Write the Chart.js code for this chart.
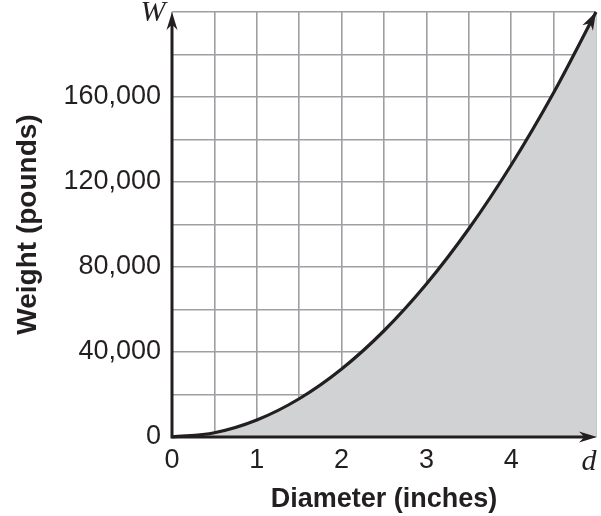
<!DOCTYPE html>
<html>
<head>
<meta charset="utf-8">
<script src="https://cdn.jsdelivr.net/npm/chart.js@4.4.1/dist/chart.umd.min.js"></script>
<style>
  html, body { margin: 0; padding: 0; background: #fff; }
  #wrap { width: 601px; height: 516px; }
</style>
</head>
<body>
<div id="wrap"><canvas id="c"></canvas></div>
<script>
// 直径 (inches) 与重量 (pounds)
const diameters = [0, 0.5, 1, 1.5, 2, 2.5, 3, 3.5, 4, 4.5, 5];
const weights = [0, 2000, 8000, 18000, 32000, 50000, 72000, 98000, 128000, 162000, 200000];

// 刻度标签
const xTickValues = [0, 1, 2, 3, 4];
const yTickValues = [0, 40000, 80000, 120000, 160000];

const INK = '#231f20';
const SANS = '"Liberation Sans", Arial, Helvetica, sans-serif';
const SERIF = '"Liberation Serif", "Times New Roman", serif';

function arrowHead(ctx, x, y, dx, dy, len, half) {
  const l = Math.hypot(dx, dy);
  const ux = dx / l, uy = dy / l;
  const px = -uy, py = ux;
  const bx = x - ux * len, by = y - uy * len;
  const nx = x - ux * len * 0.7, ny = y - uy * len * 0.7;
  ctx.beginPath();
  ctx.moveTo(x, y);
  ctx.lineTo(bx + px * half, by + py * half);
  ctx.lineTo(nx, ny);
  ctx.lineTo(bx - px * half, by - py * half);
  ctx.closePath();
  ctx.fill();
}

// 坐标轴箭头、曲线箭头和 d / W 字母
const arrowsPlugin = {
  id: 'arrows',
  afterDatasetsDraw(chart) {
    const ctx = chart.ctx;
    const a = chart.chartArea;
    const xs = chart.scales.x, ys = chart.scales.y;
    ctx.save();
    ctx.fillStyle = INK;
    ctx.strokeStyle = INK;
    ctx.lineWidth = 3;
    ctx.lineCap = 'butt';
    ctx.beginPath();
    ctx.moveTo(a.left, a.top + 8);
    ctx.lineTo(a.left, a.bottom);
    ctx.lineTo(a.right - 8, a.bottom);
    ctx.stroke();
    arrowHead(ctx, a.left, a.top, 0, -1, 18, 5.5);
    arrowHead(ctx, a.right + 1, a.bottom, 1, 0, 18, 5.5);

    // 曲线末端箭头
    const pts = chart.getDatasetMeta(0).data;
    const last = pts[pts.length - 1];
    const prev = pts[pts.length - 2];
    const cx = last.cp1x !== undefined ? last.cp1x : prev.x;
    const cy = last.cp1y !== undefined ? last.cp1y : prev.y;
    arrowHead(ctx, last.x, last.y, last.x - cx, last.y - cy, 18, 6);

    ctx.font = 'italic 30px ' + SERIF;
    ctx.textAlign = 'center';
    ctx.textBaseline = 'middle';
    ctx.fillText('d', xs.getPixelForValue(5) - 7, a.bottom + 25);
    ctx.fillText('W', a.left - 19, ys.getPixelForValue(200000) + 1);
    ctx.restore();
  }
};

new Chart(document.getElementById('c'), {
  type: 'line',
  data: {
    datasets: [{
      data: diameters.map((d, i) => ({ x: d, y: weights[i] })),
      borderColor: INK,
      borderWidth: 3.2,
      backgroundColor: '#d1d2d4',
      fill: 'origin',
      pointRadius: 0,
      cubicInterpolationMode: 'monotone',
      clip: false
    }]
  },
  plugins: [arrowsPlugin],
  options: {
    responsive: true,
    maintainAspectRatio: false,
    animation: false,
    layout: { padding: { top: 12, right: 5, left: 0, bottom: 0 } },
    plugins: {
      legend: { display: false },
      tooltip: { enabled: false }
    },
    scales: {
      x: {
        type: 'linear',
        min: 0,
        max: 5,
        afterFit(s) { s.height = 79; s.paddingLeft = 0; s.paddingRight = 0; },
        grid: { color: '#9d9fa2', lineWidth: 1.6, drawTicks: false },
        border: { display: false },
        ticks: {
          stepSize: 0.5,
          autoSkip: false,
          maxRotation: 0,
          padding: 7,
          color: INK,
          font: { family: SANS, size: 27 },
          callback: v => xTickValues.includes(v) ? String(v) : ''
        },
        title: {
          display: true,
          text: 'Diameter (inches)',
          color: INK,
          font: { family: SANS, size: 27, weight: 'bold' },
          padding: { top: 0, bottom: 0 }
        }
      },
      y: {
        type: 'linear',
        min: 0,
        max: 200000,
        afterFit(s) { s.width = 172; s.paddingTop = 0; s.paddingBottom = 0; },
        grid: { color: '#9d9fa2', lineWidth: 1.6, drawTicks: false },
        border: { display: false },
        ticks: {
          stepSize: 20000,
          autoSkip: false,
          padding: 11,
          color: INK,
          font: { family: SANS, size: 27 },
          callback: v => yTickValues.includes(v) ? v.toLocaleString('en-US') : ''
        },
        title: {
          display: true,
          text: 'Weight (pounds)',
          color: INK,
          font: { family: SANS, size: 28, weight: 'bold' },
          padding: { top: 11, bottom: 0 }
        }
      }
    }
  }
});
</script>
</body>
</html>
